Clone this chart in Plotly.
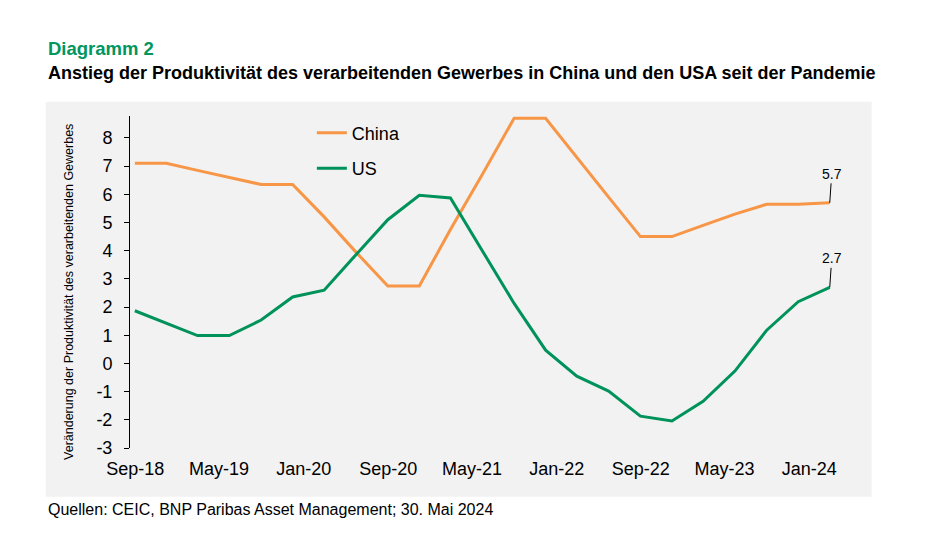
import plotly.graph_objects as go

# Quarterly observations, Sep-18 .. Mar-24
dates = [
    "2018-09-15", "2018-12-15", "2019-03-15", "2019-06-15", "2019-09-15", "2019-12-15",
    "2020-03-15", "2020-06-15", "2020-09-15", "2020-12-15", "2021-03-15", "2021-06-15",
    "2021-09-15", "2021-12-15", "2022-03-15", "2022-06-15", "2022-09-15", "2022-12-15",
    "2023-03-15", "2023-06-15", "2023-09-15", "2023-12-15", "2024-03-15",
]
china = [7.1, 7.1, 6.85, 6.6, 6.35, 6.35, 5.2, 3.95, 2.75, 2.75, 4.75, 6.7,
         8.7, 8.7, 7.3, 5.9, 4.5, 4.5, 4.9, 5.3, 5.65, 5.65, 5.7]
us = [1.87, 1.42, 0.99, 0.99, 1.54, 2.36, 2.6, 3.86, 5.1, 5.97, 5.87, 4.0,
      2.13, 0.47, -0.45, -0.98, -1.87, -2.04, -1.34, -0.27, 1.18, 2.19, 2.7]

# x axis ticks (every 8 months) and labels
tick_dates = ["2018-09-01", "2019-05-01", "2020-01-01", "2020-09-01", "2021-05-01",
              "2022-01-01", "2022-09-01", "2023-05-01", "2024-01-01"]
label_dates = ["2018-09-16", "2019-05-16", "2020-01-16", "2020-09-16", "2021-05-16",
               "2022-01-16", "2022-09-16", "2023-05-16", "2024-01-16"]
tick_labels = ["Sep-18", "May-19", "Jan-20", "Sep-20", "May-21",
               "Jan-22", "Sep-22", "May-23", "Jan-24"]
y_ticks = [-3, -2, -1, 0, 1, 2, 3, 4, 5, 6, 7, 8]
y_labels = [str(v) for v in y_ticks]

ORANGE = "#F79646"
GREEN = "#00925B"
FONT = "Liberation Sans"
x_range = ["2018-09-01", "2024-05-01"]
y_range = [-3, 8.78]

fig = go.Figure()
fig.add_trace(go.Scatter(x=dates, y=china, name="China", mode="lines",
                         line=dict(color=ORANGE, width=3), legendgroup="a"))
fig.add_trace(go.Scatter(x=dates, y=us, name="US", mode="lines",
                         line=dict(color=GREEN, width=3), legendgroup="b"))

# end-of-series labels
for vals in (china, us):
    fig.add_annotation(x=dates[-1], y=vals[-1], text=f"{vals[-1]:.1f}",
                       showarrow=True, arrowhead=0, arrowwidth=1, arrowcolor="black",
                       ax=2, ay=-29, standoff=0,
                       font=dict(family=FONT, size=14, color="black"))

# light grey chart area
fig.add_shape(type="rect", xref="paper", yref="paper",
              x0=-0.1177, x1=1.0359, y0=-0.1467, y1=1.0431,
              fillcolor="#F2F2F2", line_width=0, layer="below")

# headings, axis title, source
fig.add_annotation(text="<b>Diagramm 2</b>", xref="paper", yref="paper",
                   x=-0.1173, y=1.2048, xanchor="left", yanchor="middle", showarrow=False,
                   font=dict(family=FONT, size=18.5, color="#00965E"))
fig.add_annotation(text="<b>Anstieg der Produktivität des verarbeitenden Gewerbes in China und den USA seit der Pandemie</b>",
                   xref="paper", yref="paper", x=-0.1173, y=1.1295,
                   xanchor="left", yanchor="middle", showarrow=False,
                   font=dict(family=FONT, size=18, color="black"))
fig.add_annotation(text="Veränderung der Produktivität des verarbeitenden Gewerbes",
                   xref="paper", yref="paper", x=-0.0852, y=0.470, textangle=-90,
                   xanchor="center", yanchor="middle", showarrow=False,
                   font=dict(family=FONT, size=12.5, color="black"))
fig.add_annotation(text="Quellen: CEIC, BNP Paribas Asset Management; 30. Mai 2024",
                   xref="paper", yref="paper", x=-0.1173, y=-0.1867,
                   xanchor="left", yanchor="middle", showarrow=False,
                   font=dict(family=FONT, size=16, color="black"))

fig.update_layout(
    width=938, height=549,
    margin=dict(l=122, r=100, t=108, b=109),
    paper_bgcolor="white",
    plot_bgcolor="#F2F2F2",
    font=dict(family=FONT, color="black"),
    showlegend=True,
    legend=dict(x=0.254, y=1.004, xanchor="left", yanchor="top",
                bgcolor="rgba(0,0,0,0)", font=dict(family=FONT, size=18),
                tracegroupgap=9, itemwidth=30),
    xaxis=dict(type="date", range=x_range, showgrid=False, zeroline=False,
               showline=False, ticks="", tickmode="array",
               tickvals=label_dates, ticktext=tick_labels, ticklabelstandoff=8,
               tickfont=dict(family=FONT, size=18)),
    xaxis2=dict(type="date", range=x_range, overlaying="x", anchor="free",
                position=3 / 11.78, showgrid=False, zeroline=False,
                showline=True, linecolor="black", linewidth=1,
                ticks="outside", ticklen=5, tickcolor="black", tickwidth=1,
                tickmode="array", tickvals=tick_dates, showticklabels=False),
    yaxis=dict(range=y_range, showgrid=False, zeroline=False,
               showline=True, linecolor="black", linewidth=1,
               ticks="outside", ticklen=5, tickcolor="black",
               tickmode="array", tickvals=y_ticks, ticktext=y_labels,
               ticklabelstandoff=8, tickfont=dict(family=FONT, size=18)),
)

fig.write_html("out.html")
